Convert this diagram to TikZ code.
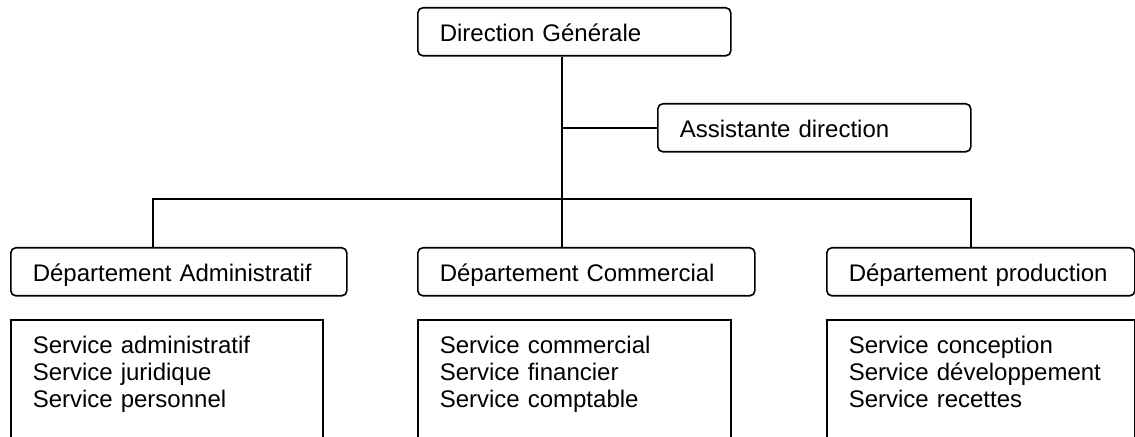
\documentclass[tikz,border=0pt]{standalone}
\usepackage{fontspec}
\setmainfont{Liberation Sans}
\tikzset{every picture/.style={/utils/exec={\fontsize{12}{13.5}\selectfont}}}
\tikzset{
  unit/.style={draw, rounded corners=2.5pt, anchor=north west, align=left,
    inner xsep=11pt, minimum height=24pt, text height=9.5pt, text depth=0pt},
  svcbox/.style={draw, anchor=north west, align=left, inner xsep=11pt,
    inner ysep=8pt, text height=9pt, text depth=70pt}
}

\begin{document}
\begin{tikzpicture}[x=0.5pt, y=-0.5pt, line width=0.8pt]
  \useasboundingbox (0,0) rectangle (1135,437);
  \clip (0,0) rectangle (1135,437);

  \node[unit, text width=134.5pt] (dg) at (417,7) {Direction Générale};
  \node[unit, text width=134.5pt] (asst) at (657,103) {Assistante direction};

  \node[unit, text width=146pt] (da) at (10,247) {Département Administratif};
  \node[unit, text width=146.5pt] (dc) at (417,247) {Département Commercial};
  \node[unit, text width=132pt] (dp) at (826,247) {Département production};

  \node[svcbox, text width=134pt] (sa) at (10,319) {Service administratif\\Service juridique\\Service personnel};
  \node[svcbox, text width=134.5pt] (sc) at (417,319) {Service commercial\\Service financier\\Service comptable};
  \node[svcbox, text width=132pt] (sp) at (826,319) {Service conception\\Service développement\\Service recettes};

  \coordinate (hub) at (562,199);
  \coordinate (ja) at (153,199);
  \coordinate (jp) at (971,199);

  \draw (dg.south -| hub) -- (hub);
  \draw (asst.west) -- (asst.west -| hub);
  \draw (ja |- da.north) -- (ja) -- (jp) -- (jp |- dp.north);
  \draw (hub) -- (hub |- dc.north);

\end{tikzpicture}
\end{document}
